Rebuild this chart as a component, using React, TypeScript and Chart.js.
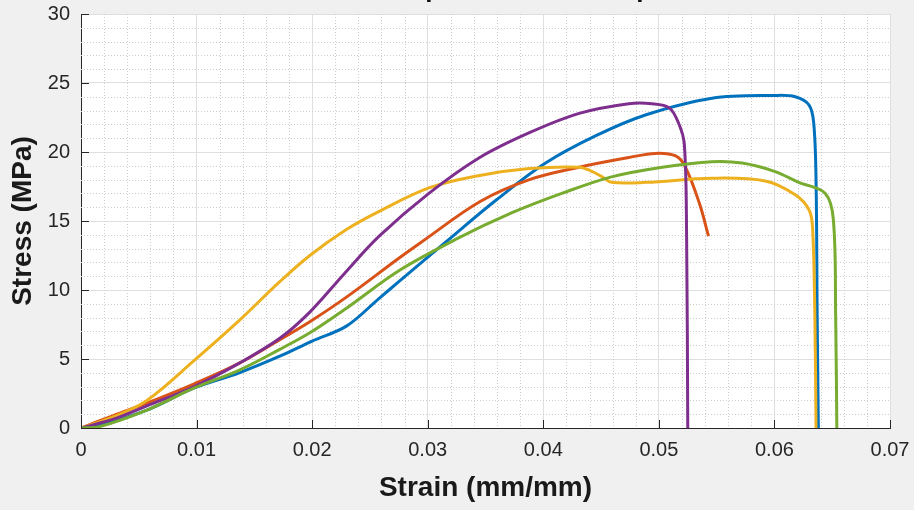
import React, { useEffect, useRef } from "react";
import { Chart, registerables } from "chart.js";

Chart.register(...registerables);

// ---- text ----
const TITLE = "Tensile Response of All Samples";
const X_LABEL = "Strain (mm/mm)";
const Y_LABEL = "Stress (MPa)";

// ---- axes ----
const X_TICKS = [0, 0.01, 0.02, 0.03, 0.04, 0.05, 0.06, 0.07];
const Y_TICKS = [0, 5, 10, 15, 20, 25, 30];
const X_MINOR_STEP = 0.002;
const Y_MINOR_STEP = 1;

// ---- series (strain in mm/mm, stress in MPa) ----
const sample1Strain = [0, 0.0016, 0.0057, 0.0098, 0.0137, 0.0172, 0.02, 0.023, 0.0258, 0.0275, 0.0316, 0.0359, 0.0402, 0.0446, 0.0489, 0.0546, 0.0601, 0.0618, 0.063, 0.0634, 0.0636, 0.0637, 0.0638];
const sample1Stress = [0, 0.2, 1.3, 2.9, 4.0, 5.2, 6.3, 7.4, 9.4, 10.6, 13.5, 16.5, 19.2, 21.2, 22.7, 23.9, 24.1, 24.0, 23.4, 22.1, 18.0, 8.0, 0];

const sample2Strain = [0, 0.0028, 0.0057, 0.0098, 0.0137, 0.0172, 0.0198, 0.023, 0.0275, 0.0295, 0.0345, 0.0388, 0.0431, 0.0474, 0.0497, 0.0515, 0.0523, 0.0535, 0.0543];
const sample2Stress = [0, 0.9, 1.8, 3.2, 4.7, 6.4, 7.7, 9.5, 12.3, 13.5, 16.4, 18.0, 18.9, 19.6, 19.9, 19.7, 18.9, 16.3, 13.9];

const sample3Strain = [0, 0.0028, 0.0057, 0.0098, 0.0137, 0.0172, 0.0198, 0.023, 0.0258, 0.0301, 0.0345, 0.0388, 0.0431, 0.0442, 0.0451, 0.0459, 0.0489, 0.0546, 0.0592, 0.0618, 0.063, 0.0633, 0.0635, 0.0636];
const sample3Stress = [0, 0.8, 2.0, 4.9, 7.8, 10.6, 12.5, 14.4, 15.7, 17.4, 18.3, 18.8, 18.9, 18.6, 18.2, 17.8, 17.8, 18.1, 17.9, 16.9, 15.8, 14.5, 8.0, 0];

const sample4Strain = [0, 0.003, 0.0057, 0.0098, 0.0137, 0.0172, 0.0198, 0.0228, 0.0258, 0.0301, 0.0345, 0.0388, 0.0431, 0.0474, 0.0494, 0.0509, 0.0517, 0.0522, 0.0524, 0.0525];
const sample4Stress = [0, 0.7, 1.6, 3.0, 4.7, 6.5, 8.4, 11.2, 13.9, 17.0, 19.6, 21.4, 22.8, 23.5, 23.5, 23.2, 22.1, 20.6, 14.0, 0];

const sample5Strain = [0, 0.0016, 0.0057, 0.0098, 0.0137, 0.0172, 0.0198, 0.023, 0.0275, 0.0325, 0.0373, 0.0416, 0.0459, 0.0503, 0.0546, 0.0572, 0.06, 0.0621, 0.0644, 0.0651, 0.0653, 0.0654];
const sample5Stress = [0, 0.1, 1.3, 2.9, 4.2, 5.7, 6.9, 8.7, 11.4, 13.7, 15.6, 17.0, 18.2, 18.9, 19.3, 19.2, 18.6, 17.8, 17.0, 15.1, 8.0, 0];

const SERIES_COLORS = ["#0072BD", "#D95319", "#EDB120", "#7E2F8E", "#77AC30"];

const FONT_FAMILY = '"Liberation Sans", Arial, Helvetica, sans-serif';
const TEXT_COLOR = "#262626";
const AXIS_COLOR = "#262626";
const MAJOR_GRID = "#dfdfdf";
const MINOR_GRID = "#cdcdcd";
const TICK_LEN = 8;

const toPoints = (xs: number[], ys: number[]) => xs.map((x, i) => ({ x, y: ys[i] }));

const isMultiple = (v: number, step: number) => Math.abs(v / step - Math.round(v / step)) < 1e-6;

// Plot background, dotted minor grid, inward ticks and the title
const framePlugin = {
  id: "frame",
  beforeDraw(chart: any) {
    const { ctx, chartArea } = chart;
    ctx.save();
    ctx.fillStyle = "#ffffff";
    ctx.fillRect(chartArea.left, chartArea.top, chartArea.right - chartArea.left, chartArea.bottom - chartArea.top);
    ctx.restore();
  },
  beforeDatasetsDraw(chart: any) {
    const { ctx, chartArea, scales } = chart;
    const xs = scales.x;
    const ys = scales.y;
    ctx.save();
    ctx.strokeStyle = MINOR_GRID;
    ctx.lineWidth = 1;
    ctx.setLineDash([1, 2]);
    const nx = Math.round((xs.max - xs.min) / X_MINOR_STEP);
    for (let i = 1; i < nx; i++) {
      const v = xs.min + i * X_MINOR_STEP;
      if (isMultiple(v, 0.01)) continue;
      const px = Math.round(xs.getPixelForValue(v)) + 0.5;
      ctx.beginPath();
      ctx.moveTo(px, chartArea.top);
      ctx.lineTo(px, chartArea.bottom);
      ctx.stroke();
    }
    const ny = Math.round((ys.max - ys.min) / Y_MINOR_STEP);
    for (let i = 1; i < ny; i++) {
      const v = ys.min + i * Y_MINOR_STEP;
      if (isMultiple(v, 5)) continue;
      const py = Math.round(ys.getPixelForValue(v)) + 0.5;
      ctx.beginPath();
      ctx.moveTo(chartArea.left, py);
      ctx.lineTo(chartArea.right, py);
      ctx.stroke();
    }
    ctx.restore();
  },
  afterDatasetsDraw(chart: any) {
    const { ctx, chartArea, scales } = chart;
    ctx.save();
    ctx.strokeStyle = AXIS_COLOR;
    ctx.lineWidth = 1;
    ctx.setLineDash([]);
    X_TICKS.forEach((v) => {
      const px = Math.round(scales.x.getPixelForValue(v)) + 0.5;
      ctx.beginPath();
      ctx.moveTo(px, chartArea.bottom);
      ctx.lineTo(px, chartArea.bottom - TICK_LEN);
      ctx.stroke();
    });
    Y_TICKS.forEach((v) => {
      const py = Math.round(scales.y.getPixelForValue(v)) + 0.5;
      ctx.beginPath();
      ctx.moveTo(chartArea.left, py);
      ctx.lineTo(chartArea.left + TICK_LEN, py);
      ctx.stroke();
    });
    // title sits above the top edge of the figure; only its lowest strokes show
    ctx.fillStyle = "#111111";
    ctx.font = `bold 26px ${FONT_FAMILY}`;
    ctx.textAlign = "center";
    ctx.textBaseline = "alphabetic";
    ctx.fillText(TITLE, (chartArea.left + chartArea.right) / 2, -3);
    ctx.restore();
  },
};

export default function App() {
  const canvasRef = useRef<HTMLCanvasElement | null>(null);

  useEffect(() => {
    if (!canvasRef.current) return;
    const series = [
      { label: "Sample 1", strain: sample1Strain, stress: sample1Stress, color: SERIES_COLORS[0] },
      { label: "Sample 2", strain: sample2Strain, stress: sample2Stress, color: SERIES_COLORS[1] },
      { label: "Sample 3", strain: sample3Strain, stress: sample3Stress, color: SERIES_COLORS[2] },
      { label: "Sample 4", strain: sample4Strain, stress: sample4Stress, color: SERIES_COLORS[3] },
      { label: "Sample 5", strain: sample5Strain, stress: sample5Stress, color: SERIES_COLORS[4] },
    ];
    // later samples are painted over earlier ones
    const datasets = series
      .slice()
      .reverse()
      .map((s) => ({
        label: s.label,
        data: toPoints(s.strain, s.stress),
        borderColor: s.color,
        backgroundColor: s.color,
        borderWidth: 3,
        pointRadius: 0,
        tension: 0.35,
        fill: false,
      }));

    const chart = new Chart(canvasRef.current, {
      type: "line",
      data: { datasets },
      plugins: [framePlugin],
      options: {
        animation: false,
        responsive: false,
        devicePixelRatio: 1,
        layout: { padding: { top: 14, right: 24, left: 0, bottom: 0 } },
        plugins: { legend: { display: false }, tooltip: { enabled: false }, title: { display: false } },
        scales: {
          x: {
            type: "linear",
            min: 0,
            max: 0.07,
            afterBuildTicks: (s: any) => {
              s.ticks = X_TICKS.map((value) => ({ value }));
            },
            afterFit: (s: any) => {
              s.height = 82;
              s.paddingLeft = 0;
              s.paddingRight = 0;
            },
            ticks: {
              autoSkip: false,
              maxRotation: 0,
              padding: 10,
              color: TEXT_COLOR,
              font: { family: FONT_FAMILY, size: 20 },
              callback: (v: any) => String(Number(Number(v).toFixed(3))),
            },
            grid: { color: MAJOR_GRID, lineWidth: 1, drawTicks: false },
            border: { display: true, color: AXIS_COLOR, width: 1 },
            title: {
              display: true,
              text: X_LABEL,
              color: "#1a1a1a",
              font: { family: FONT_FAMILY, size: 28, weight: "bold" },
              padding: { top: 0, bottom: 5 },
            },
          },
          y: {
            type: "linear",
            min: 0,
            max: 30,
            afterBuildTicks: (s: any) => {
              s.ticks = Y_TICKS.map((value) => ({ value }));
            },
            afterFit: (s: any) => {
              s.width = 81;
              s.paddingTop = 0;
              s.paddingBottom = 0;
            },
            ticks: {
              autoSkip: false,
              padding: 11,
              color: TEXT_COLOR,
              font: { family: FONT_FAMILY, size: 20 },
              callback: (v: any) => String(v),
            },
            grid: { color: MAJOR_GRID, lineWidth: 1, drawTicks: false },
            border: { display: true, color: AXIS_COLOR, width: 1 },
            title: {
              display: true,
              text: Y_LABEL,
              color: "#1a1a1a",
              font: { family: FONT_FAMILY, size: 28, weight: "bold" },
              padding: { top: 6, bottom: 0 },
            },
          },
        },
      },
    } as any);

    return () => chart.destroy();
  }, []);

  return (
    <div
      style={{
        position: "fixed",
        left: 0,
        top: 0,
        width: 914,
        height: 510,
        background: "#f0f0f0",
        overflow: "hidden",
      }}
    >
      <canvas ref={canvasRef} width={914} height={510} style={{ display: "block", width: 914, height: 510 }} />
    </div>
  );
}
